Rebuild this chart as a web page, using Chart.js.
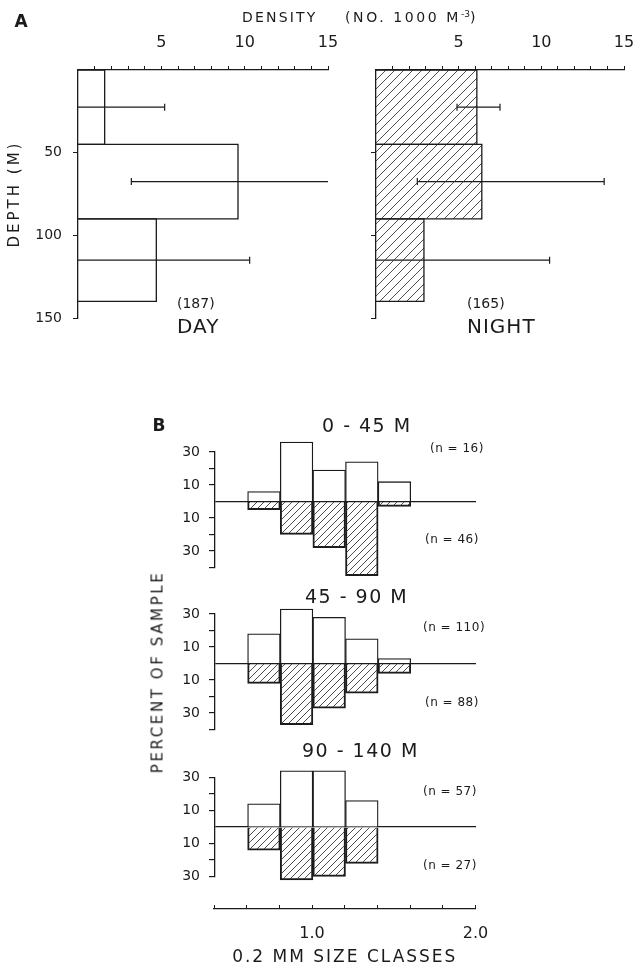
<!DOCTYPE html>
<html>
<head>
<meta charset="utf-8">
<script src="https://cdn.jsdelivr.net/npm/chart.js@4.4.1/dist/chart.umd.min.js"></script>
<style>
  body { margin: 0; background: #fff; }
  #fig { position: relative; width: 633px; height: 972px; overflow: hidden;
         font-family: "DejaVu Sans", sans-serif; color: #1b1b1b; }
  #fig canvas { position: absolute; }
  .lbl { position: absolute; white-space: nowrap; line-height: 1; transform: translateY(-50%); }
  .mid { transform: translate(-50%, -50%); }
  .n { font-size: 12px; letter-spacing: 0.5px; }
  .grp { font-size: 19px; letter-spacing: 1.5px; }
</style>
</head>
<body>
<div id="fig">
  <canvas id="dayChart" width="340" height="330" style="left:0;top:0"></canvas>
  <canvas id="nightChart" width="303" height="330" style="left:330px;top:0"></canvas>
  <canvas id="size1" width="400" height="150" style="left:140px;top:430px"></canvas>
  <canvas id="size2" width="400" height="150" style="left:140px;top:592px"></canvas>
  <canvas id="size3" width="400" height="130" style="left:140px;top:756px"></canvas>
  <canvas id="sizeAxis" width="400" height="92" style="left:140px;top:880px"></canvas>

  <div class="lbl mid" style="left:21px;top:21px;font-size:17px;font-weight:bold">A</div>
  <div class="lbl" style="left:242px;top:17px;font-size:14px;letter-spacing:2.2px">DENSITY</div>
  <div class="lbl" style="left:345px;top:17px;font-size:14px;letter-spacing:2.6px">(NO. 1000 M<sup style="font-size:9px;letter-spacing:0">-3</sup>)</div>
  <div class="lbl" style="left:177px;top:303px;font-size:14px">(187)</div>
  <div class="lbl" style="left:177px;top:326px;font-size:20px;letter-spacing:1px">DAY</div>
  <div class="lbl" style="left:467px;top:303px;font-size:14px">(165)</div>
  <div class="lbl" style="left:467px;top:326px;font-size:20px;letter-spacing:1px">NIGHT</div>

  <div class="lbl mid" style="left:159px;top:425px;font-size:17px;font-weight:bold">B</div>
  <div class="lbl grp" style="left:322px;top:425px">0 - 45 M</div>
  <div class="lbl grp" style="left:305px;top:596px">45 - 90 M</div>
  <div class="lbl grp" style="left:302px;top:750px">90 - 140 M</div>
  <div class="lbl n" style="left:430px;top:448px">(n = 16)</div>
  <div class="lbl n" style="left:425px;top:539px">(n = 46)</div>
  <div class="lbl n" style="left:423px;top:627px">(n = 110)</div>
  <div class="lbl n" style="left:425px;top:702px">(n = 88)</div>
  <div class="lbl n" style="left:423px;top:791px">(n = 57)</div>
  <div class="lbl n" style="left:423px;top:865px">(n = 27)</div>
  <div class="lbl" style="left:157.5px;top:672px;font-size:15px;letter-spacing:2.6px;transform:translate(-50%,-50%) rotate(-90deg)">PERCENT OF SAMPLE</div>
</div>

<script>
// A: depth strata (m) and density (no. per 1000 m^3), with range bars
const depthEdges = [0, 45, 90, 140];
const dayDensity = [1.6, 9.6, 4.7];
const dayLow = [0, 3.2, 0];
const dayHigh = [5.2, 15.2, 10.3];
const nightDensity = [6.1, 6.4, 2.9];
const nightLow = [4.9, 2.5, 0];
const nightHigh = [7.5, 13.8, 10.5];
const densityTicks = [5, 10, 15];
const depthTicks = [50, 100, 150];

// B: percent of sample per 0.2 mm size class (day up, night down)
const sizeClasses = [0.6, 0.8, 1.0, 1.2, 1.4];
const day0to45 = [6, 36, 19, 24, 12];
const night0to45 = [5, 20, 28, 45, 3];
const day45to90 = [18, 33, 28, 15, 3];
const night45to90 = [12, 37, 27, 18, 6];
const day90to140 = [14, 34, 34, 16, 0];
const night90to140 = [14, 32, 30, 22, 0];
const percentTicks = [10, 30];
const sizeTicks = [1.0, 2.0];

const ink = '#1b1b1b';
const family = '"DejaVu Sans", sans-serif';

function hatch(gap) {
  const c = document.createElement('canvas');
  c.width = c.height = gap;
  const g = c.getContext('2d');
  g.strokeStyle = '#3a3a3a';
  g.lineWidth = 0.9;
  g.beginPath();
  g.moveTo(0, gap); g.lineTo(gap, 0);
  g.moveTo(-2, 2); g.lineTo(2, -2);
  g.moveTo(gap - 2, gap + 2); g.lineTo(gap + 2, gap - 2);
  g.stroke();
  return g.createPattern(c, 'repeat');
}

// fix axis box sizes so chart areas land where the figure has them;
// optionally space out the axis title letters like the stencilled original
function fixSize(key, px, titleSpacing) {
  return s => {
    s[key] = px;
    s.paddingLeft = s.paddingRight = s.paddingTop = s.paddingBottom = 0;
    if (titleSpacing && !s._spaced) {
      const draw = s.drawTitle;
      s.drawTitle = function () {
        this.ctx.save();
        this.ctx.letterSpacing = titleSpacing + 'px';
        draw.call(this);
        this.ctx.restore();
      };
      s._spaced = true;
    }
  };
}

const base = {
  responsive: false,
  animation: false,
  events: [],
  plugins: { legend: { display: false }, tooltip: { enabled: false } }
};

function depthChart(id, values, low, high, fill, yWidth, padRight, showLabels) {
  const datasets = [];
  values.forEach((v, i) => {
    const top = depthEdges[i], bot = depthEdges[i + 1];
    datasets.push({
      data: [{ x: 0, y: top }, { x: v, y: top }, { x: v, y: bot }, { x: 0, y: bot }],
      borderColor: ink, borderWidth: 1.3,
      backgroundColor: fill || 'transparent',
      fill: fill ? 'origin' : false,
      pointRadius: 0
    });
  });
  low.forEach((lo, i) => {
    const d = (depthEdges[i] + depthEdges[i + 1]) / 2;
    datasets.push({
      data: [{ x: lo, y: d }, { x: high[i], y: d }],
      borderColor: ink, borderWidth: 1.2, fill: false,
      pointStyle: 'line', rotation: 90,
      pointRadius: ctx => (ctx.raw && ctx.raw.x > 0 ? 3.5 : 0),
      pointBorderColor: ink, pointBorderWidth: 1.2
    });
  });

  return new Chart(document.getElementById(id), {
    type: 'line',
    data: { datasets },
    options: {
      ...base,
      indexAxis: 'y',
      layout: { padding: { left: 0, right: padRight, top: 0, bottom: 12 } },
      scales: {
        x: {
          type: 'linear', position: 'top', min: 0, max: 15,
          afterFit: fixSize('height', 70),
          grid: { drawOnChartArea: false, tickLength: 4,
                  tickColor: ctx => (ctx.tick.value === 0 ? 'transparent' : ink) },
          border: { color: ink, width: 1.3 },
          ticks: { stepSize: 1, autoSkip: false, maxRotation: 0, padding: 14, color: ink,
                   font: { family, size: 16 },
                   callback: v => (densityTicks.includes(v) ? v : '') }
        },
        y: {
          type: 'linear', reverse: true, min: 0, max: 150,
          afterFit: fixSize('width', yWidth, 3),
          grid: { drawOnChartArea: false, tickLength: 5,
                  tickColor: ctx => (ctx.tick.value === 0 ? 'transparent' : ink) },
          border: { color: ink, width: 1.3 },
          ticks: { stepSize: 50, padding: 11, color: ink, font: { family, size: 14 },
                   callback: v => (showLabels && depthTicks.includes(v) ? v : '') },
          title: { display: showLabels, text: 'DEPTH (M)', color: ink,
                   font: { family, size: 15 }, padding: { top: 6 } }
        }
      }
    }
  });
}

depthChart('dayChart', dayDensity, dayLow, dayHigh, null, 78, 12, true);
depthChart('nightChart', nightDensity, nightLow, nightHigh, hatch(9), 46, 9, false);

function sizeChart(id, day, night, yMin, padTop, padBottom) {
  const bar = {
    borderColor: ink, borderWidth: 1.3, borderSkipped: 'start',
    grouped: false, barPercentage: 1, categoryPercentage: 1, clip: false
  };
  return new Chart(document.getElementById(id), {
    type: 'bar',
    data: {
      datasets: [
        { ...bar, backgroundColor: '#fff',
          data: sizeClasses.map((s, i) => ({ x: s + 0.1, y: day[i] })) },
        { ...bar, backgroundColor: hatch(7),
          data: sizeClasses.map((s, i) => ({ x: s + 0.1, y: -night[i] })) }
      ]
    },
    options: {
      ...base,
      layout: { padding: { left: 0, right: 64, top: padTop, bottom: padBottom } },
      scales: {
        x: { type: 'linear', display: false, min: 0.4, max: 2.0, offset: false,
             grid: { offset: false }, ticks: { stepSize: 0.2 } },
        y: {
          min: yMin, max: 30,
          afterFit: fixSize('width', 75),
          grid: { lineWidth: 1.2, tickLength: 6,
                  color: ctx => (ctx.tick.value === 0 ? ink : 'transparent'),
                  tickColor: ctx => (ctx.tick.value === 0 ? 'transparent' : ink) },
          border: { color: ink, width: 1.3 },
          ticks: { stepSize: 10, autoSkip: false, padding: 9, color: ink,
                   font: { family, size: 14 },
                   callback: v => (percentTicks.includes(Math.abs(v)) ? Math.abs(v) : '') }
        }
      }
    }
  });
}

sizeChart('size1', day0to45, night0to45, -40, 22, 12.5);
sizeChart('size2', day45to90, night45to90, -40, 22, 12.5);
sizeChart('size3', day90to140, night90to140, -30, 21.5, 9.5);

// shared size-class axis under panel B
new Chart(document.getElementById('sizeAxis'), {
  type: 'bar',
  data: { datasets: [] },
  options: {
    ...base,
    layout: { padding: { left: 74, right: 64.5, top: 25, bottom: 0 } },
    scales: {
      x: {
        type: 'linear', min: 0.4, max: 2.0, offset: false,
        afterFit: fixSize('height', 63, 2),
        grid: { offset: false, color: ink, lineWidth: 1, drawTicks: false },
        border: { color: ink, width: 1.3 },
        ticks: { stepSize: 0.2, autoSkip: false, maxRotation: 0, padding: 15, color: ink,
                 font: { family, size: 16 },
                 callback: v => (sizeTicks.some(t => Math.abs(t - v) < 1e-6) ? v.toFixed(1) : '') },
        title: { display: true, text: '0.2 MM SIZE CLASSES', color: ink,
                 font: { family, size: 17 }, padding: { bottom: 4 } }
      },
      y: { display: false }
    }
  }
});
</script>
</body>
</html>
